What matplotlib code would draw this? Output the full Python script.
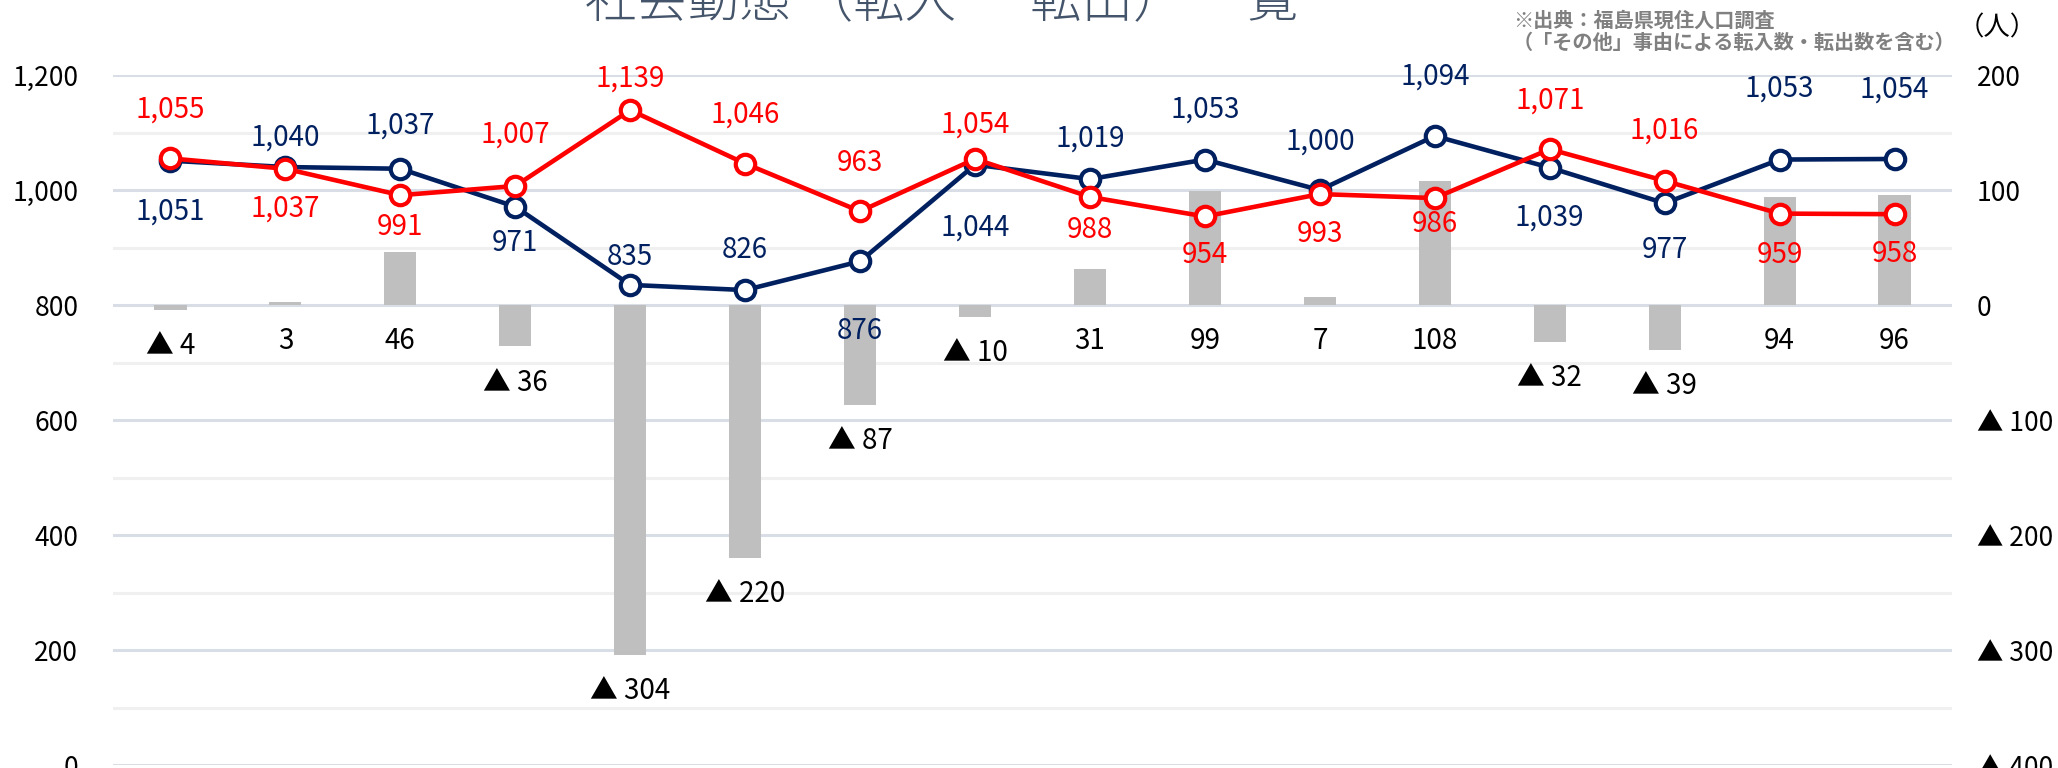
import numpy as np
import matplotlib.pyplot as plt
from matplotlib.ticker import FuncFormatter, MultipleLocator

plt.rcParams['font.family'] = ['Noto Sans CJK JP', 'DejaVu Sans']

# 転入・転出 and their difference, 16 periods
tennyu = [1051, 1040, 1037, 971, 835, 826, 876, 1044, 1019, 1053, 1000, 1094, 1039, 977, 1053, 1054]
tenshutsu = [1055, 1037, 991, 1007, 1139, 1046, 963, 1054, 988, 954, 993, 986, 1071, 1016, 959, 958]
sagaku = [-4, 3, 46, -36, -304, -220, -87, -10, 31, 99, 7, 108, -32, -39, 94, 96]

# label offsets in points (positive = above the marker)
off_in = [-37, 21, 31, -26, 20, 29, -50, -45, 29, 36, 35, 43, -36, -34, 51, 50]
off_out = [35, -29, -23, 37, 23, 35, 35, 25, -24, -28, -29, -19, 35, 36, -30, -29]

NAVY = '#002060'
RED = '#FF0000'

x = np.arange(len(tennyu))

fig = plt.figure(figsize=(20.58, 7.68), dpi=100)
ax = fig.add_axes([0.0549, 0.0039, 0.8936, 0.8984])
ax2 = ax.twinx()
ax.set_zorder(2)
ax2.set_zorder(1)
ax.patch.set_visible(False)

# bars on the right scale, gridlines live here so they sit under everything
ax2.bar(x, sagaku, width=0.28, color='#BFBFBF', zorder=2)
ax2.set_ylim(-400, 200)
ax2.yaxis.set_major_locator(MultipleLocator(100))
ax2.yaxis.set_minor_locator(MultipleLocator(50))
ax2.grid(which='major', color='#D9DEE6', lw=2.2, zorder=0)
ax2.grid(which='minor', color='#F0F0F0', lw=2.2, zorder=0)
ax2.set_axisbelow(True)
ax2.yaxis.set_major_formatter(FuncFormatter(lambda v, p: f'▲ {abs(int(v))}' if v < 0 else f'{int(v)}'))
ax2.tick_params(axis='y', which='both', length=0, pad=18, labelsize=19)
ax2.tick_params(axis='y', which='minor', labelright=False)

for xi, v in zip(x, sagaku):
    txt = f'▲ {abs(v)}' if v < 0 else f'{v}'
    ax2.annotate(txt, (xi, min(v, 0)), xytext=(0, -26), textcoords='offset points',
                 ha='center', va='center', fontsize=20, color='black')

# lines on the left scale
ax.plot(x, tennyu, color=NAVY, lw=3.3, marker='o', ms=14, mfc='white', mec=NAVY, mew=3, zorder=3)
ax.plot(x, tenshutsu, color=RED, lw=3.3, marker='o', ms=14, mfc='white', mec=RED, mew=3, zorder=4)
ax.set_ylim(0, 1200)
ax.yaxis.set_major_locator(MultipleLocator(200))
ax.yaxis.set_major_formatter(FuncFormatter(lambda v, p: f'{int(v):,}'))
ax.tick_params(axis='y', length=0, pad=25, labelsize=19)

for xi, v, o in zip(x, tennyu, off_in):
    ax.annotate(f'{v:,}', (xi, v), xytext=(0, o), textcoords='offset points',
                ha='center', va='center', fontsize=20, color=NAVY)
for xi, v, o in zip(x, tenshutsu, off_out):
    ax.annotate(f'{v:,}', (xi, v), xytext=(0, o), textcoords='offset points',
                ha='center', va='center', fontsize=20, color=RED)

ax.set_xlim(-0.5, len(x) - 0.5)
ax.set_xticks([])
for a in (ax, ax2):
    for s in a.spines.values():
        s.set_visible(False)

# title (cut at the top of the picture) and notes
fig.text(0.4575, 1 - 17 / 768, '社会動態 （転入 － 転出） 一覧', ha='center', va='baseline',
         fontsize=37, color='#44546A', fontweight='light')
fig.text(0.735, 1 - 20 / 768, '※出典：福島県現住人口調査', ha='left', va='center',
         fontsize=14.5, color='#808080', fontweight='bold')
fig.text(0.735, 1 - 42 / 768, '（「その他」事由による転入数・転出数を含む）', ha='left', va='center',
         fontsize=14.5, color='#808080', fontweight='bold')
fig.text(0.9705, 1 - 28 / 768, '（人）', ha='center', va='center', fontsize=19, color='black')

fig.savefig('out.png', dpi=100)
